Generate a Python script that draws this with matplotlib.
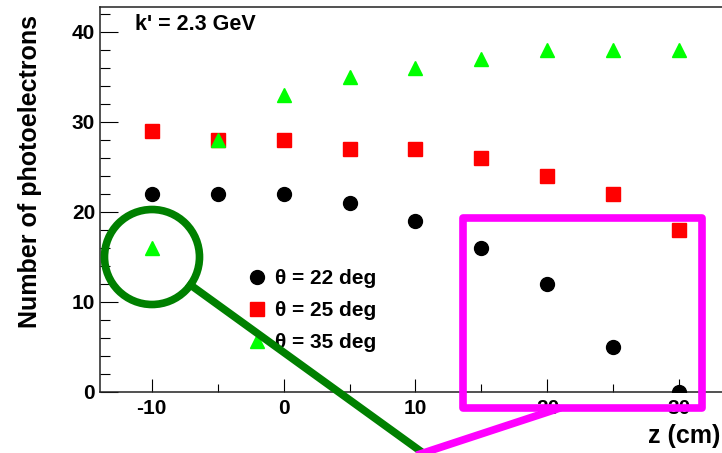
import matplotlib
matplotlib.use("Agg")
import matplotlib.pyplot as plt
from matplotlib.patches import Ellipse, Rectangle
from matplotlib.lines import Line2D
from matplotlib.ticker import MultipleLocator

plt.rcParams['font.family'] = ['Liberation Sans', 'DejaVu Sans']
plt.rcParams['axes.unicode_minus'] = False

z = [-10, -5, 0, 5, 10, 15, 20, 25, 30]
npe_22 = [22, 22, 22, 21, 19, 16, 12, 5, 0]
npe_25 = [29, 28, 28, 27, 27, 26, 24, 22, 18]
npe_35 = [16, 28, 33, 35, 36, 37, 38, 38, 38]
labels = ["θ = 22 deg", "θ = 25 deg", "θ = 35 deg"]
title = "k' = 2.3 GeV"

W, H = 722, 453
fig = plt.figure(figsize=(W / 100, H / 100), dpi=100)

def fx(px):
    return px / W

def fy(py):
    return 1 - py / H

ax_l, ax_t, ax_b, ax_r = 100, 7, 391.7, 722
ax = fig.add_axes([fx(ax_l), fy(ax_b), fx(ax_r - ax_l), (ax_b - ax_t) / H])
ax.set_xlim(-13.92, 33.24)
ax.set_ylim(0, 42.74)

ax.plot(z, npe_25, 's', color='#ff0000', ms=10.5, mec='#ff0000', label=labels[1], zorder=3)
ax.plot(z, npe_35, '^', color='#00ff00', ms=10, mec='#00ff00', label=labels[2], zorder=3)
ax.plot(z, npe_22, 'o', color='black', ms=10, label=labels[0], zorder=4)

ax.spines['right'].set_visible(False)
for s in ['left', 'bottom', 'top']:
    ax.spines[s].set_linewidth(1.1)
    ax.spines[s].set_color('#222222')

ax.xaxis.set_major_locator(MultipleLocator(10))
ax.xaxis.set_minor_locator(MultipleLocator(5))
ax.yaxis.set_major_locator(MultipleLocator(10))
ax.yaxis.set_minor_locator(MultipleLocator(2))
ax.tick_params(axis='x', which='major', direction='in', length=9.5, width=0.8, pad=5,
               labelsize=15, top=False)
ax.tick_params(axis='x', which='minor', direction='in', length=5.5, width=0.8, top=False)
ax.tick_params(axis='y', which='major', direction='in', length=13, width=0.8, pad=3.5,
               labelsize=15, right=False)
ax.tick_params(axis='y', which='minor', direction='in', length=7, width=0.8, right=False)
for lab in ax.get_xticklabels() + ax.get_yticklabels():
    lab.set_fontweight('bold')

ax.set_ylabel("Number of photoelectrons", fontsize=18, fontweight='bold')
ax.yaxis.set_label_coords(-0.093, 0.572)
ax.set_xlabel("z (cm)", fontsize=18, fontweight='bold', ha='left')
ax.xaxis.set_label_coords(0.881, -0.084)

ax.text(0.056, 0.955, title, transform=ax.transAxes, fontsize=15.5, fontweight='bold',
        va='center', ha='left')

h, l = ax.get_legend_handles_labels()
order = [2, 0, 1]
leg = ax.legend([h[i] for i in order], [l[i] for i in order], loc='upper left',
                bbox_to_anchor=(fx(248.7), fy(269.5)), bbox_transform=fig.transFigure,
                frameon=False, handlelength=0.8, handletextpad=0.47,
                labelspacing=0.62, borderaxespad=0, borderpad=0,
                prop={'size': 15, 'weight': 'bold'})

# overlay annotations (figure pixel coordinates)
circ_c = (152, 257)
r = 47.5
green = '#008000'
mag = '#ff00ff'
ell = Ellipse((fx(circ_c[0]), fy(circ_c[1])), width=2 * r / W, height=2 * r / H,
              transform=fig.transFigure, fill=False, ec=green, lw=5.5, zorder=10)
fig.add_artist(ell)
fig.add_artist(Line2D([fx(190.5), fx(430)], [fy(285), fy(458)], transform=fig.transFigure,
                      color=green, lw=5.5, zorder=10))
rect = Rectangle((fx(463), fy(408)), (702 - 463) / W, (408 - 218) / H,
                 transform=fig.transFigure, fill=False, ec=mag, lw=5.5,
                 joinstyle='round', zorder=10)
fig.add_artist(rect)
fig.add_artist(Line2D([fx(557), fx(408)], [fy(409), fy(458)], transform=fig.transFigure,
                      color=mag, lw=5.5, zorder=10))

fig.savefig("out.png", dpi=100)
